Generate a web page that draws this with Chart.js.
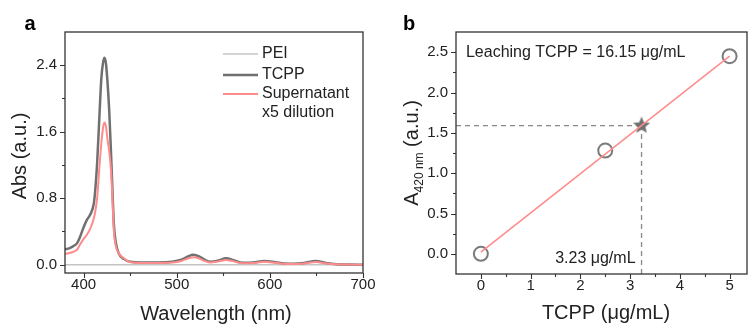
<!DOCTYPE html>
<html>
<head>
<meta charset="utf-8">
<script src="https://cdn.jsdelivr.net/npm/chart.js@4.4.1/dist/chart.umd.min.js"></script>
<style>
  body { margin: 0; background: #fff; }
  #wrap { position: relative; width: 748px; height: 327px; overflow: hidden; }
  #chart_a { position: absolute; left: 0; top: 0; }
  #chart_b { position: absolute; left: 374px; top: 0; }
</style>
</head>
<body>
<div id="wrap">
  <canvas id="chart_a" width="390" height="327"></canvas>
  <canvas id="chart_b" width="374" height="327"></canvas>
</div>
<script>
// panel a: UV-vis spectra
const wavelength = [380, 385, 390, 393, 396, 400, 403.5, 407, 411, 412.5, 414.5, 417, 419, 421, 422.5, 424, 425.5, 427.5, 429.5, 431, 432.5, 434.5, 437.5, 443, 450, 465, 480, 495, 505, 512, 518, 524, 530, 536, 545, 553, 561, 571, 582, 594, 606, 615, 625, 637, 649, 660, 672, 685, 700];
const absTCPP = [0.185, 0.20, 0.23, 0.26, 0.33, 0.45, 0.54, 0.60, 0.74, 0.90, 1.22, 1.80, 2.24, 2.44, 2.49, 2.42, 2.22, 1.85, 1.32, 0.88, 0.48, 0.27, 0.14, 0.07, 0.035, 0.025, 0.025, 0.035, 0.06, 0.10, 0.12, 0.10, 0.06, 0.035, 0.05, 0.077, 0.055, 0.022, 0.025, 0.045, 0.03, 0.015, 0.01, 0.02, 0.045, 0.02, 0.005, 0.002, 0];
const absSupernatant = [0.13, 0.14, 0.16, 0.18, 0.24, 0.31, 0.36, 0.43, 0.56, 0.64, 0.80, 1.18, 1.46, 1.66, 1.71, 1.66, 1.52, 1.36, 1.12, 0.78, 0.40, 0.23, 0.14, 0.08, 0.03, 0.02, 0.02, 0.025, 0.045, 0.075, 0.089, 0.075, 0.045, 0.025, 0.04, 0.057, 0.04, 0.017, 0.02, 0.035, 0.022, 0.01, 0.008, 0.015, 0.032, 0.015, 0.004, 0.001, 0];
const peiWavelength = [380, 700];
const absPEI = [0, 0];

const aXTicks = [400, 500, 600, 700];
const aXMinor = [450, 550, 650];
const aYTicks = [0, 0.8, 1.6, 2.4];
const aYMinor = [0.4, 1.2, 2.0];

// panel b: calibration
const tcppConc = [0, 2.5, 5];
const a420 = [0, 1.28, 2.45];
const fitConc = [0, 5];
const fitA420 = [0.02, 2.45];
const sampleConc = 3.23;
const sampleA420 = 1.59;

const bXTicks = [0, 1, 2, 3, 4, 5];
const bXMinor = [0.5, 1.5, 2.5, 3.5, 4.5];
const bYTicks = [0, 0.5, 1, 1.5, 2, 2.5];
const bYMinor = [0.25, 0.75, 1.25, 1.75, 2.25];

const FONT = '"Liberation Sans", Arial, sans-serif';
const INK = '#222';

const toXY = (xs, ys) => xs.map((x, i) => ({ x: x, y: ys[i] }));

// box around the plot area, ticks pointing outwards
const frame = {
    id: 'frame',
    afterDraw(chart, args, opts) {
        const { ctx, chartArea: a, scales: { x, y } } = chart;
        ctx.save();
        ctx.strokeStyle = '#333';
        ctx.lineWidth = 1.3;
        ctx.strokeRect(a.left, a.top, a.right - a.left, a.bottom - a.top);
        ctx.lineWidth = 1.1;
        ctx.beginPath();
        const xt = (vals, len) => vals.forEach(v => {
            const px = Math.round(x.getPixelForValue(v)) + 0.5;
            ctx.moveTo(px, a.bottom);
            ctx.lineTo(px, a.bottom + len);
        });
        const yt = (vals, len) => vals.forEach(v => {
            const py = Math.round(y.getPixelForValue(v)) + 0.5;
            ctx.moveTo(a.left, py);
            ctx.lineTo(a.left - len, py);
        });
        xt(opts.xMajor, 5); xt(opts.xMinor, 3);
        yt(opts.yMajor, 5); yt(opts.yMinor, 3);
        ctx.stroke();
        ctx.restore();
    }
};

function axes(xMin, xMax, xTicks, yMin, yMax, yTicks, yWidth, xHeight, xFmt, yFmt) {
    return {
        x: {
            type: 'linear', min: xMin, max: xMax,
            grid: { display: false, drawTicks: false },
            border: { display: false },
            afterBuildTicks: s => { s.ticks = xTicks.map(v => ({ value: v })); },
            afterFit: s => { s.height = xHeight; s.paddingLeft = 0; s.paddingRight = 0; },
            ticks: { padding: 3, color: INK, font: { family: FONT, size: 15 }, maxRotation: 0, autoSkip: false, callback: xFmt }
        },
        y: {
            type: 'linear', min: yMin, max: yMax,
            grid: { display: false, drawTicks: false },
            border: { display: false },
            afterBuildTicks: s => { s.ticks = yTicks.map(v => ({ value: v })); },
            afterFit: s => { s.width = yWidth; s.paddingTop = 0; s.paddingBottom = 0; },
            ticks: { padding: 8, color: INK, font: { family: FONT, size: 15 }, autoSkip: false, callback: yFmt }
        }
    };
}

function text(ctx, str, x, y, size, opts = {}) {
    ctx.font = (opts.bold ? 'bold ' : '') + size + 'px ' + FONT;
    ctx.fillStyle = opts.color || INK;
    ctx.textAlign = opts.align || 'left';
    ctx.textBaseline = opts.baseline || 'middle';
    ctx.fillText(str, x, y);
}

function starImage(r, color) {
    const c = document.createElement('canvas');
    c.width = c.height = r * 2 + 2;
    const g = c.getContext('2d');
    g.fillStyle = color;
    g.beginPath();
    for (let i = 0; i < 10; i++) {
        const rad = i % 2 ? r * 0.45 : r;
        const ang = -Math.PI / 2 + i * Math.PI / 5;
        g.lineTo(c.width / 2 + rad * Math.cos(ang), c.height / 2 + rad * Math.sin(ang));
    }
    g.closePath();
    g.fill();
    return c;
}

const decorA = {
    id: 'decorA',
    afterDraw(chart) {
        const { ctx, chartArea: a } = chart;
        ctx.save();
        text(ctx, 'a', 30, 30, 20, { bold: true, align: 'center', baseline: 'alphabetic', color: '#000' });
        text(ctx, 'Wavelength (nm)', (a.left + a.right) / 2 + 2, 314, 20, { align: 'center' });
        ctx.translate(20, 156);
        ctx.rotate(-Math.PI / 2);
        text(ctx, 'Abs (a.u.)', 0, 0, 20, { align: 'center' });
        ctx.restore();

        // legend
        const rows = [
            { label: 'PEI', color: '#c4c4c4', width: 1.5, y: 54 },
            { label: 'TCPP', color: '#707070', width: 2.5, y: 75 },
            { label: 'Supernatant', color: '#ff8c8c', width: 2, y: 94 }
        ];
        ctx.save();
        rows.forEach(r => {
            ctx.strokeStyle = r.color;
            ctx.lineWidth = r.width;
            ctx.beginPath();
            ctx.moveTo(223, r.y);
            ctx.lineTo(258, r.y);
            ctx.stroke();
            text(ctx, r.label, 262, r.y, 16);
        });
        text(ctx, 'x5 dilution', 262, 113, 16);
        ctx.restore();
    }
};

const decorB = {
    id: 'decorB',
    afterDraw(chart) {
        const { ctx, chartArea: a, scales: { x, y } } = chart;
        ctx.save();
        text(ctx, 'b', 35, 30, 20, { bold: true, align: 'center', baseline: 'alphabetic', color: '#000' });
        text(ctx, 'TCPP (\u03bcg/mL)', 232, 313, 20, { align: 'center' });
        text(ctx, 'Leaching TCPP = 16.15 \u03bcg/mL', x.getPixelForValue(-0.3), y.getPixelForValue(2.5), 16);
        text(ctx, '3.23 \u03bcg/mL', x.getPixelForValue(sampleConc) - 6, y.getPixelForValue(-0.06), 16, { align: 'right' });

        // y title with subscript
        ctx.translate(37, 153);
        ctx.rotate(-Math.PI / 2);
        const parts = [['A', 20, 0], ['420 nm', 12, 5], [' (a.u.)', 20, 0]];
        let total = 0;
        parts.forEach(p => { ctx.font = p[1] + 'px ' + FONT; total += ctx.measureText(p[0]).width; });
        let cx = -total / 2;
        parts.forEach(p => {
            ctx.font = p[1] + 'px ' + FONT;
            ctx.fillStyle = INK;
            ctx.textAlign = 'left';
            ctx.textBaseline = 'alphabetic';
            ctx.fillText(p[0], cx, 7 + p[2]);
            cx += ctx.measureText(p[0]).width;
        });
        ctx.restore();
    }
};

const renderA = () => {
    const ctx = document.getElementById('chart_a').getContext('2d');
    new Chart(ctx, {
        type: 'scatter',
        data: {
            datasets: [
                {
                    label: 'Supernatant x5 dilution',
                    data: toXY(wavelength, absSupernatant),
                    showLine: true, borderColor: '#ff8c8c', borderWidth: 2,
                    pointRadius: 0, cubicInterpolationMode: 'monotone'
                },
                {
                    label: 'TCPP',
                    data: toXY(wavelength, absTCPP),
                    showLine: true, borderColor: '#707070', borderWidth: 2.5,
                    pointRadius: 0, cubicInterpolationMode: 'monotone'
                },
                {
                    label: 'PEI',
                    data: toXY(peiWavelength, absPEI),
                    showLine: true, borderColor: '#c4c4c4', borderWidth: 1.5,
                    pointRadius: 0
                }
            ]
        },
        options: {
            responsive: false,
            animation: false,
            layout: { autoPadding: false, padding: { left: 0, top: 32, right: 27, bottom: 0 } },
            scales: axes(380, 700, aXTicks, -0.1, 2.8, aYTicks, 65, 54,
                v => v.toString(), v => v.toFixed(1)),
            plugins: {
                legend: { display: false },
                tooltip: { enabled: false },
                frame: { xMajor: aXTicks, xMinor: aXMinor, yMajor: aYTicks, yMinor: aYMinor }
            }
        },
        plugins: [frame, decorA]
    });
};

const renderB = () => {
    const ctx = document.getElementById('chart_b').getContext('2d');
    new Chart(ctx, {
        type: 'scatter',
        data: {
            datasets: [
                {
                    label: 'fit',
                    data: toXY(fitConc, fitA420),
                    showLine: true, borderColor: '#ff8c8c', borderWidth: 1.6, pointRadius: 0
                },
                {
                    label: 'sample',
                    data: [{ x: sampleConc, y: sampleA420 }],
                    pointStyle: starImage(9, '#707070')
                },
                {
                    label: 'standards',
                    data: toXY(tcppConc, a420),
                    pointStyle: 'circle', pointRadius: 7, borderWidth: 2,
                    borderColor: '#7a7a7a', backgroundColor: 'rgba(0,0,0,0)'
                },
                {
                    label: 'guide h',
                    data: [{ x: -0.5, y: sampleA420 }, { x: sampleConc, y: sampleA420 }],
                    showLine: true, borderColor: '#888', borderWidth: 1.3, borderDash: [5, 4], pointRadius: 0
                },
                {
                    label: 'guide v',
                    data: [{ x: sampleConc, y: -0.25 }, { x: sampleConc, y: sampleA420 }],
                    showLine: true, borderColor: '#888', borderWidth: 1.3, borderDash: [5, 4], pointRadius: 0
                }
            ]
        },
        options: {
            responsive: false,
            animation: false,
            layout: { autoPadding: false, padding: { left: 0, top: 32, right: 1, bottom: 0 } },
            scales: axes(-0.5, 5.35, bXTicks, -0.25, 2.75, bYTicks, 82, 53,
                v => v.toString(), v => v.toFixed(1)),
            plugins: {
                legend: { display: false },
                tooltip: { enabled: false },
                frame: { xMajor: bXTicks, xMinor: bXMinor, yMajor: bYTicks, yMinor: bYMinor }
            }
        },
        plugins: [frame, decorB]
    });
};

document.addEventListener('DOMContentLoaded', () => {
    renderA();
    renderB();
});
</script>
</body>
</html>
